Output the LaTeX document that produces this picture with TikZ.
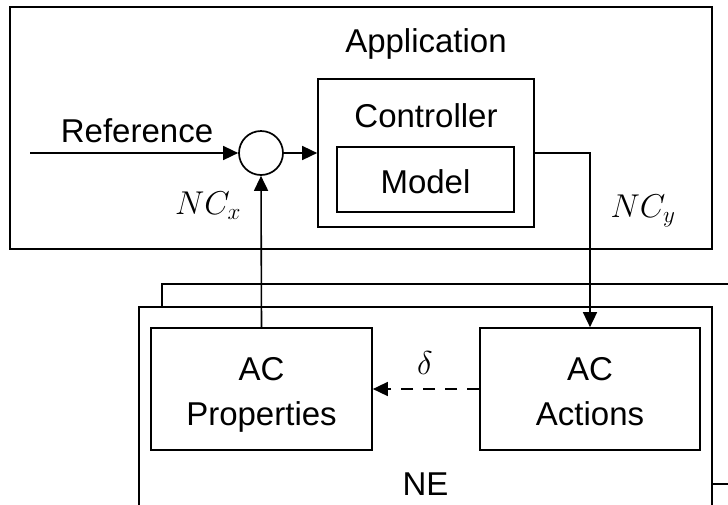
\RequirePackage{fix-cm}
\documentclass[tikz,border=0pt]{standalone}
\usepackage{fontspec}
\setmainfont{Liberation Sans}
\usetikzlibrary{arrows.meta}
\tikzset{
  box/.style={draw, line width=1.7pt, fill=white, inner sep=0pt},
  frame/.style={draw, line width=1.6pt, fill=white},
  frontframe/.style={draw, line width=2.2pt, fill=white},
  txt/.style={inner sep=0pt, anchor=base, font=\fontsize{33}{40}\selectfont},
  mth/.style={inner sep=0pt, font=\fontsize{33}{40}\selectfont},
  arr/.style={line width=1.6pt, -{Triangle[length=15pt,width=14pt]}},
  dsh/.style={dash pattern=on 12pt off 10pt}
}
\begin{document}
\begin{tikzpicture}[x=1pt,y=-1pt]
\useasboundingbox (0,0) rectangle (728,504);
\clip (0,0) rectangle (728,504);
% Application
\node[box, minimum width=702, minimum height=242] (app) at (361,128) {};
\node[txt] (applbl) at (426,52.3) {Application};
\node[box, minimum width=216, minimum height=148] (ctrl) at (426,153) {};
\node[txt] (ctrllbl) at (426,127.5) {Controller};
\node[box, minimum width=177, minimum height=65] (model) at (425.5,179.5) {};
\node[txt] (modellbl) at (425.5,193.8) {Model};
\node[draw, circle, line width=1.7pt, minimum size=44pt, inner sep=0pt] (sum) at (261,153) {};
\coordinate (refstart) at (30,153);
\node[txt] (reflbl) at (137,142.7) {Reference};
\node[mth] (ncx) at (208,206) {$NC_x$};
\node[mth] (ncy) at (643,211) {$NC_y$};
% NE frames
\path[frame] (162,284) rectangle (760,484);
\path[frontframe] (139,307) rectangle (712,560);
\node[txt] (nelbl) at (425.5,495) {NE};
\node[box, minimum width=221, minimum height=122] (acprop) at (261.5,389) {};
\node[txt] (acp1) at (261.5,380) {AC};
\node[txt] (acp2) at (261.5,425.5) {Properties};
\node[box, minimum width=220, minimum height=122] (acact) at (590,389) {};
\node[txt] (aca1) at (590,380) {AC};
\node[txt] (aca2) at (590,425.5) {Actions};
\node[mth] (delta) at (425,363) {$\delta$};
% connectors
\draw[arr] (refstart) -- (sum.west);
\draw[arr] (sum.east) -- (ctrl.west);
\draw[arr] (ctrl.east) -| (acact.north);
\draw[arr] (acprop.north) -- (sum.south);
\draw[arr, dsh] (acact.west) -- (acprop.east);
\end{tikzpicture}
\end{document}
